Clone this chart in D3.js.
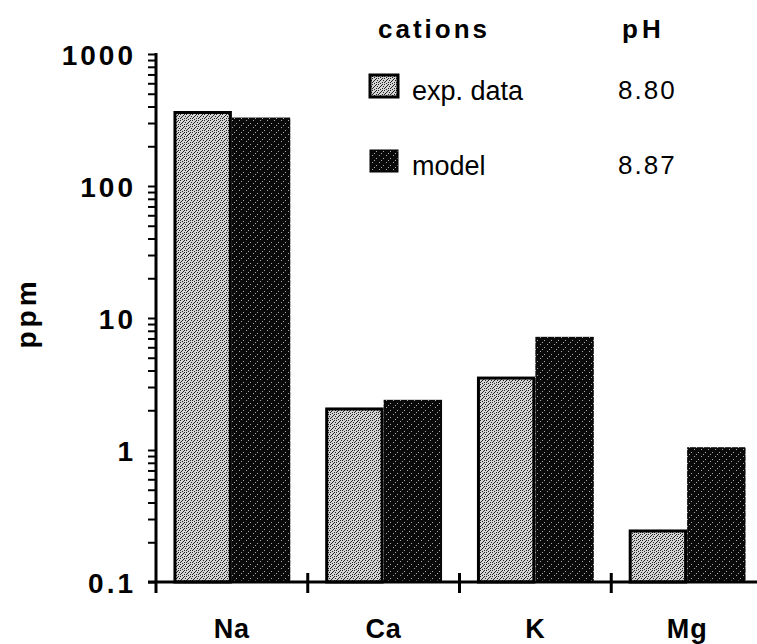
<!DOCTYPE html>
<html>
<head>
<meta charset="utf-8">
<script src="https://cdn.jsdelivr.net/npm/d3@7"></script>
<style>
  body { margin: 0; background: #fff; }
  svg { display: block; }
  text { font-family: "Liberation Sans", Arial, Helvetica, sans-serif; fill: #000; }
</style>
</head>
<body>
<div id="chart"></div>
<script>
// data
const categories = ["Na", "Ca", "K", "Mg"];
const seriesNames = ["exp. data", "model"];
const expData = [370, 2.1, 3.6, 0.25];
const modelData = [330, 2.4, 7.2, 1.05];
const phValues = ["8.80", "8.87"];
const yTicks = [0.1, 1, 10, 100, 1000];
const yTickLabels = ["0.1", "1", "10", "100", "1000"];

const width = 757, height = 644;
const plotLeft = 156, plotRight = 763, plotTop = 54, plotBottom = 582;

const svg = d3.select("#chart").append("svg")
  .attr("width", width)
  .attr("height", height);

// stipple textures for the two series
const defs = svg.append("defs");
const light = defs.append("pattern").attr("id", "lightFill")
  .attr("width", 6).attr("height", 6).attr("patternUnits", "userSpaceOnUse");
light.append("rect").attr("width", 6).attr("height", 6).attr("fill", "#d4d4d4");
[[0,0],[3,1],[1,3],[4,4],[5,2],[2,5],[0,4],[4,0],[2,2]].forEach(p => {
  light.append("rect").attr("x", p[0]).attr("y", p[1]).attr("width", 1).attr("height", 1).attr("fill", "#222");
});
const dark = defs.append("pattern").attr("id", "darkFill")
  .attr("width", 7).attr("height", 7).attr("patternUnits", "userSpaceOnUse");
dark.append("rect").attr("width", 7).attr("height", 7).attr("fill", "#0a0a0a");
[[1,1],[5,4],[3,6]].forEach(p => {
  dark.append("rect").attr("x", p[0]).attr("y", p[1]).attr("width", 1).attr("height", 1).attr("fill", "#aaa");
});

const y = d3.scaleLog().domain([yTicks[0], yTicks[yTicks.length - 1]]).range([plotBottom, plotTop]);

const x = d3.scaleBand().domain(categories).range([plotLeft, plotRight])
  .paddingInner(0.23).paddingOuter(0.115);
const xs = d3.scaleBand().domain(seriesNames).range([0, x.bandwidth()]).padding(0);

// bars
const fills = ["url(#lightFill)", "url(#darkFill)"];
const series = [expData, modelData];
series.forEach((vals, s) => {
  svg.append("g").selectAll("rect")
    .data(vals)
    .enter().append("rect")
    .attr("x", (d, i) => x(categories[i]) + xs(seriesNames[s]) + (s === 0 ? 1.5 : 0))
    .attr("y", d => y(d) + (s === 0 ? 1.5 : 0))
    .attr("width", xs.bandwidth() - (s === 0 ? 3 : 0))
    .attr("height", d => y(yTicks[0]) - y(d) - (s === 0 ? 1.5 : 0))
    .attr("fill", fills[s])
    .attr("stroke", s === 0 ? "#000" : "none")
    .attr("stroke-width", 3);
});

// y axis with log minor ticks
const allTicks = [];
for (let k = 0; k < yTicks.length - 1; k++) {
  for (let m = 1; m < 10; m++) allTicks.push(yTicks[k] * m);
}
allTicks.push(yTicks[yTicks.length - 1]);

const yAxis = svg.append("g")
  .attr("transform", "translate(" + plotLeft + ",0)")
  .call(d3.axisLeft(y).tickValues(allTicks).tickSize(8).tickSizeOuter(0)
    .tickFormat(d => {
      const i = yTicks.findIndex(t => Math.abs(t - d) < 1e-9);
      return i >= 0 ? yTickLabels[i] : "";
    }));
yAxis.select(".domain").attr("stroke", "#000").attr("stroke-width", 3)
  .attr("d", "M0," + (plotTop - 1) + "V" + (plotBottom + 11));
yAxis.selectAll(".tick line").attr("stroke", "#000").attr("stroke-width", 2);
yAxis.selectAll(".tick text")
  .attr("x", -20)
  .attr("dy", "0.36em")
  .style("font-size", "28px")
  .style("font-weight", "bold")
  .style("letter-spacing", "3px");

// x axis line with separator ticks
const xAxis = svg.append("g")
  .attr("transform", "translate(0," + plotBottom + ")")
  .call(d3.axisBottom(x).tickSize(0).tickPadding(37));
xAxis.select(".domain").attr("stroke", "#000").attr("stroke-width", 3)
  .attr("d", "M" + (plotLeft - 8) + ",0H" + width);
xAxis.selectAll(".tick text")
  .attr("dy", "0.71em")
  .style("font-size", "27px")
  .style("font-weight", "bold")
  .style("letter-spacing", "1px");

const seps = d3.range(1, categories.length).map(k => x(categories[k]) - x.step() * x.paddingInner() / 2);
svg.append("g").selectAll("line")
  .data(seps)
  .enter().append("line")
  .attr("x1", d => d).attr("x2", d => d)
  .attr("y1", plotBottom - 9).attr("y2", plotBottom + 11)
  .attr("stroke", "#000").attr("stroke-width", 3);

// y label
svg.append("text")
  .attr("transform", "translate(36,313) rotate(-90)")
  .attr("text-anchor", "middle")
  .style("font-size", "28px")
  .style("font-weight", "bold")
  .style("letter-spacing", "4px")
  .text("ppm");

// legend
const legend = svg.append("g");
legend.append("text").attr("x", 378).attr("y", 38)
  .style("font-size", "26px").style("font-weight", "bold").style("letter-spacing", "3px")
  .text("cations");
legend.append("text").attr("x", 622).attr("y", 38)
  .style("font-size", "26px").style("font-weight", "bold").style("letter-spacing", "4px")
  .text("pH");

const legendRows = [100, 175];
seriesNames.forEach((name, s) => {
  const by = legendRows[s];
  legend.append("rect")
    .attr("x", 370).attr("y", by - 25)
    .attr("width", 28).attr("height", 22)
    .attr("fill", fills[s])
    .attr("stroke", "#000").attr("stroke-width", s === 0 ? 3 : 1);
  legend.append("text").attr("x", 412).attr("y", by)
    .style("font-size", "27px")
    .text(name);
  legend.append("text").attr("x", 618).attr("y", by - 1)
    .style("font-size", "26px").style("letter-spacing", "2px")
    .text(phValues[s]);
});
</script>
</body>
</html>
